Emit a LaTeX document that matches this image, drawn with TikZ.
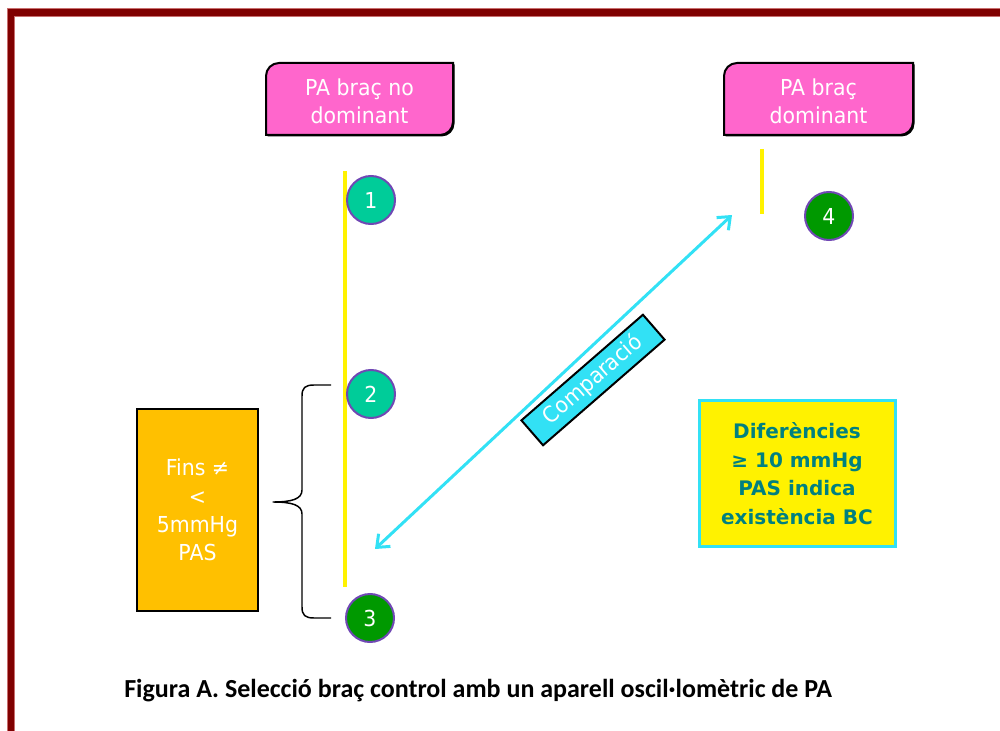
\documentclass[tikz,border=0pt]{standalone}
\usepackage{fontspec}
\setmainfont{DejaVu Sans}[FakeStretch=0.93]
\newfontfamily\notefont{DejaVu Sans}
\newfontfamily\captionfont{Carlito}
\usetikzlibrary{arrows.meta}
\definecolor{framered}{RGB}{128,0,0}
\definecolor{frameedge}{RGB}{200,110,110}
\definecolor{pinkfill}{RGB}{255,102,204}
\definecolor{tealfill}{RGB}{0,204,153}
\definecolor{greenfill}{RGB}{0,153,0}
\definecolor{markerpurple}{RGB}{112,72,180}
\definecolor{amber}{RGB}{255,192,0}
\definecolor{cyanline}{RGB}{50,225,245}
\definecolor{tealtext}{RGB}{0,128,128}
\begin{document}
\begin{tikzpicture}[x=0.75pt,y=-0.75pt,
  labeltext/.style={text=white,font=\fontsize{16.5}{21}\selectfont,align=center,inner sep=0pt},
  tagshape/.style={fill=pinkfill,draw=black,line width=1.5pt},
  tagshadow/.style={fill=black},
  marker/.style={circle,draw=markerpurple,line width=1.5pt,minimum size=36pt,inner sep=0pt,
    text=white,font=\fontsize{16.5}{21}\selectfont},
  yellowline/.style={draw=yellow,line width=3pt},
  rangebox/.style={rectangle,fill=amber,draw=black,line width=1.5pt,minimum width=90.75pt,
    minimum height=151.5pt,text=white,align=center,font=\fontsize{16.5}{21.2}\selectfont},
  bracepen/.style={draw=black,line width=1.1pt,line join=round},
  cmparrow/.style={draw=cyanline,line width=2.25pt,
    {Straight Barb[length=8pt,width=13pt]}-{Straight Barb[length=8pt,width=13pt]}},
  cmpbox/.style={rectangle,fill=cyanline,draw=black,line width=1.5pt,minimum width=120.75pt,
    minimum height=24.75pt,inner sep=0pt,text=white,font=\fontsize{16.5}{21}\selectfont},
  notebox/.style={rectangle,fill=yellow,draw=cyanline,line width=2.25pt,minimum width=147pt,
    minimum height=110pt,align=center,text=tealtext,
    font=\notefont\bfseries\fontsize{15}{21.4}\selectfont},
  captiontext/.style={inner sep=0pt,font=\captionfont\bfseries\fontsize{19.5}{23}\selectfont}
]
\useasboundingbox (0,0) rectangle (1000,731);
\clip (0,0) rectangle (1000,731);

% outer frame (top and left bands)
\fill[framered] (7,8) rectangle (1000,16);
\fill[framered] (7,8) rectangle (14,731);
\draw[frameedge,line width=0.6pt] (7,731) -- (7,8) -- (1000,8);
\draw[frameedge,line width=0.6pt] (14,731) -- (14,16) -- (1000,16);

% arm labels with diagonal rounded corners
\fill[tagshadow,shift={(1.5,1.5)}] (266,135) -- (266,76) .. controls (266,68.8) and (271.8,63) .. (279,63)
  -- (453,63) -- (453,122) .. controls (453,129.2) and (447.2,135) .. (440,135) -- cycle;
\path[tagshape] (266,135) -- (266,76) .. controls (266,68.8) and (271.8,63) .. (279,63)
  -- (453,63) -- (453,122) .. controls (453,129.2) and (447.2,135) .. (440,135) -- cycle;
\fill[tagshadow,shift={(1.5,1.5)}] (724,135) -- (724,76) .. controls (724,68.8) and (729.8,63) .. (737,63)
  -- (913,63) -- (913,122) .. controls (913,129.2) and (907.2,135) .. (900,135) -- cycle;
\path[tagshape] (724,135) -- (724,76) .. controls (724,68.8) and (729.8,63) .. (737,63)
  -- (913,63) -- (913,122) .. controls (913,129.2) and (907.2,135) .. (900,135) -- cycle;
\node[labeltext] (nondom) at (359.5,101) {PA braç no\\dominant};
\node[labeltext] (dom) at (818.5,101) {PA braç\\dominant};

% measurement timelines
\draw[yellowline] (345,171) -- (345,587);
\draw[yellowline] (762,149) -- (762,214);

% numbered readings
\node[marker,fill=tealfill] (m1) at (371,200) {1};
\node[marker,fill=tealfill] (m2) at (371,394) {2};
\node[marker,fill=greenfill] (m3) at (370,618) {3};
\node[marker,fill=greenfill] (m4) at (829,216) {4};

% range between readings 2 and 3
\node[rangebox] (fins) at (197.5,510) {Fins ≠\\<\\5mmHg\\PAS};
\draw[bracepen] (331,385) -- (314,385) .. controls (305,385) and (302,388) .. (302,396)
  -- (302,490) .. controls (302,499) and (292,502) .. (273,502)
  .. controls (292,502) and (302,505) .. (302,514)
  -- (302,607) .. controls (302,615) and (305,618) .. (314,618) -- (331,618);

% comparison between arms
\coordinate (cmpA) at (375,549);
\coordinate (cmpB) at (732,215);
\draw[cmparrow] (cmpA) -- (cmpB);
\node[cmpbox,rotate=41] (cmp) at (593,380) {Comparació};

% criterion
\node[notebox] (note) at (797,473.5) {Diferències\\≥ 10 mmHg\\PAS indica\\existència BC};

% caption
\node[captiontext,anchor=base west] (cap) at (124,697)
  {Figura A. Selecció braç control amb un aparell oscil·lomètric de PA};
\end{tikzpicture}
\end{document}
